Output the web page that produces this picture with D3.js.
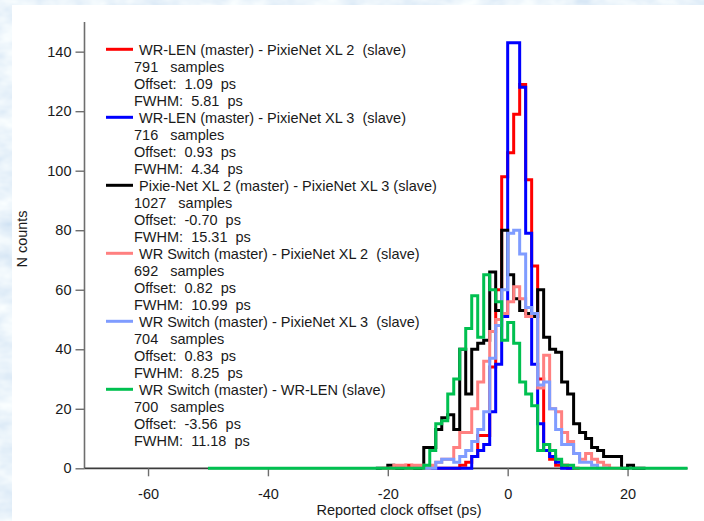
<!DOCTYPE html>
<html><head><meta charset="utf-8">
<script src="https://cdn.jsdelivr.net/npm/d3@7"></script>
<style>
html,body{margin:0;padding:0;background:#d6e6f5;}
svg{display:block;font-family:Arial,"Liberation Sans",sans-serif;}
</style></head><body>
<svg id="chart" width="704" height="521"></svg>
<script>
// ---------------- data ----------------
const xTicks = [-60, -40, -20, 0, 20];
const yTicks = [0, 20, 40, 60, 80, 100, 120, 140];
const xTitle = "Reported clock offset (ps)";
const yTitle = "N counts";

const seriesNames = [
  "WR-LEN (master) - PixieNet XL 2  (slave)",
  "WR-LEN (master) - PixieNet XL 3  (slave)",
  "Pixie-Net XL 2 (master) - PixieNet XL 3 (slave)",
  "WR Switch (master) - PixieNet XL 2  (slave)",
  "WR Switch (master) - PixieNet XL 3  (slave)",
  "WR Switch (master) - WR-LEN (slave)"
];
const seriesSamples = ["791", "716", "1027", "692", "704", "700"];
const seriesOffsets = ["1.09", "0.93", "-0.70", "0.82", "0.83", "-3.56"];
const seriesFWHM = ["5.81", "4.34", "15.31", "10.99", "8.25", "11.18"];

// histograms: 1 ps bins, first bin left edge = *Start
const redStart = -17;
const redCounts = [1,0,0,0,0,0,0,0,0,1,2,4,11,11,34,60,98,106,119,129,97,68,30,8,3,1,1];
const redRange = [-20, 12];

const blueStart = -6;
const blueCounts = [4,6,8,19,35,51,143,143,128,79,35,15,6,4,2];
const blueRange = [-13, 11];

const blackStart = -20;
const blackCounts = [1,0,0,0,0,0,7,7,13,17,18,13,40,25,40,42,43,66,53,80,65,57,53,52,51,60,44,40,39,29,25,15,12,10,7,6,4,4,4,0,1];
const blackRange = [-22, 23];

const pinkStart = -19;
const pinkCounts = [1,1,0,1,1,0,1,2,3,3,7,12,12,20,29,36,46,50,52,56,61,57,51,52,27,38,20,19,12,9,5,3,5,3,2,1];
const pinkRange = [-21, 19];

const lightBlueStart = -12;
const lightBlueCounts = [2,3,3,2,4,6,9,13,19,37,48,60,79,80,72,54,52,28,29,20,13,8,8,5,2,2,1];
const lightBlueRange = [-14, 17];

const greenStart = -14;
const greenCounts = [1,6,15,16,25,30,40,47,58,44,65,60,56,43,49,42,29,25,21,6,8,6,3,1,1];
const greenRange = [-50, 30];

const seriesColors = ["#ff0000", "#0000ff", "#000000", "#ff8080", "#7f9cff", "#00c050"];

// ---------------- drawing ----------------
const svg = d3.select("#chart");
const defs = svg.append("defs");
const f = defs.append("filter").attr("id", "tex").attr("x", 0).attr("y", 0).attr("width", 1).attr("height", 1);
f.append("feTurbulence").attr("type", "fractalNoise").attr("baseFrequency", "0.035 0.06").attr("numOctaves", 3).attr("seed", 7);
f.append("feColorMatrix").attr("type", "matrix")
  .attr("values", "0.45 0 0 0 0.60  0.32 0 0 0 0.74  0.14 0 0 0 0.89  0 0 0 0 1");
svg.append("rect").attr("width", 704).attr("height", 521).attr("filter", "url(#tex)");

svg.append("rect").attr("x", 12).attr("y", 5).attr("width", 692).attr("height", 516).attr("fill", "#ffffff");

const x = d3.scaleLinear().domain([-70.6, 30]).range([84.5, 687.5]);
const y = d3.scaleLinear().domain([0, 150]).range([468.3, 21.9]);

const fontSize = 14.5;
const textColor = "#1a1a1a";

// y axis
const yAxis = svg.append("g").attr("transform", `translate(${x.range()[0]},0)`)
  .call(d3.axisLeft(y).tickValues(yTicks).tickSize(9).tickPadding(4).tickFormat(d => String(d)));
yAxis.select(".domain").attr("stroke", "#6e6e6e").attr("stroke-width", 1.6).attr("d", `M0,${y(150)}V${y(0)}`);
yAxis.selectAll(".tick line").attr("stroke", "#6e6e6e").attr("stroke-width", 1.4);
yAxis.selectAll(".tick text").attr("fill", textColor).style("font-size", fontSize + "px").style("font-family", "Arial, 'Liberation Sans', sans-serif");

// x axis
const xAxis = svg.append("g").attr("transform", `translate(0,${y(0)})`)
  .call(d3.axisBottom(x).tickValues(xTicks).tickSize(8).tickPadding(12).tickFormat(d => String(d)));
xAxis.select(".domain").attr("stroke", "#3c3c3c").attr("stroke-width", 1.8).attr("d", `M${x.range()[0]},0H${x.range()[1]}`);
xAxis.selectAll(".tick line").attr("stroke", "#6e6e6e").attr("stroke-width", 1.4);
xAxis.selectAll(".tick text").attr("fill", textColor).style("font-size", fontSize + "px").style("font-family", "Arial, 'Liberation Sans', sans-serif");

// titles
svg.append("text").attr("x", 399).attr("y", 515).attr("text-anchor", "middle")
  .attr("fill", textColor).style("font-size", fontSize + "px").text(xTitle);
svg.append("text").attr("transform", "translate(27,239) rotate(-90)").attr("text-anchor", "middle")
  .attr("fill", textColor).style("font-size", fontSize + "px").text(yTitle);

// histograms
const series = [
  {start: redStart, counts: redCounts, range: redRange},
  {start: blueStart, counts: blueCounts, range: blueRange},
  {start: blackStart, counts: blackCounts, range: blackRange},
  {start: pinkStart, counts: pinkCounts, range: pinkRange},
  {start: lightBlueStart, counts: lightBlueCounts, range: lightBlueRange},
  {start: greenStart, counts: greenCounts, range: greenRange}
];
const line = d3.line().x(d => x(d[0])).y(d => y(d[1])).curve(d3.curveStepAfter);
series.forEach((s, i) => {
  const pts = [[s.range[0], 0]];
  s.counts.forEach((c, k) => pts.push([s.start + k, c]));
  pts.push([s.start + s.counts.length, 0]);
  pts.push([s.range[1], 0]);
  svg.append("path").datum(pts).attr("d", line)
    .attr("fill", "none").attr("stroke", seriesColors[i]).attr("stroke-width", 3)
    .attr("stroke-linejoin", "miter");
});

// legend
const lg = svg.append("g").style("font-size", fontSize + "px").attr("fill", textColor);
const base0 = 54.8, rowH = 17.0;
seriesNames.forEach((name, i) => {
  const r = i * 4;
  const by = base0 + r * rowH;
  lg.append("line").attr("x1", 106).attr("x2", 133).attr("y1", by - 5.5).attr("y2", by - 5.5)
    .attr("stroke", seriesColors[i]).attr("stroke-width", 3);
  lg.append("text").attr("x", 139).attr("y", by).style("white-space", "pre").text(name);
  lg.append("text").attr("x", 134).attr("y", by + rowH).style("white-space", "pre").text(seriesSamples[i] + "   samples");
  lg.append("text").attr("x", 134).attr("y", by + 2 * rowH).style("white-space", "pre").text("Offset:  " + seriesOffsets[i] + "  ps");
  lg.append("text").attr("x", 134).attr("y", by + 3 * rowH).style("white-space", "pre").text("FWHM:  " + seriesFWHM[i] + "  ps");
});
</script>
</body></html>
